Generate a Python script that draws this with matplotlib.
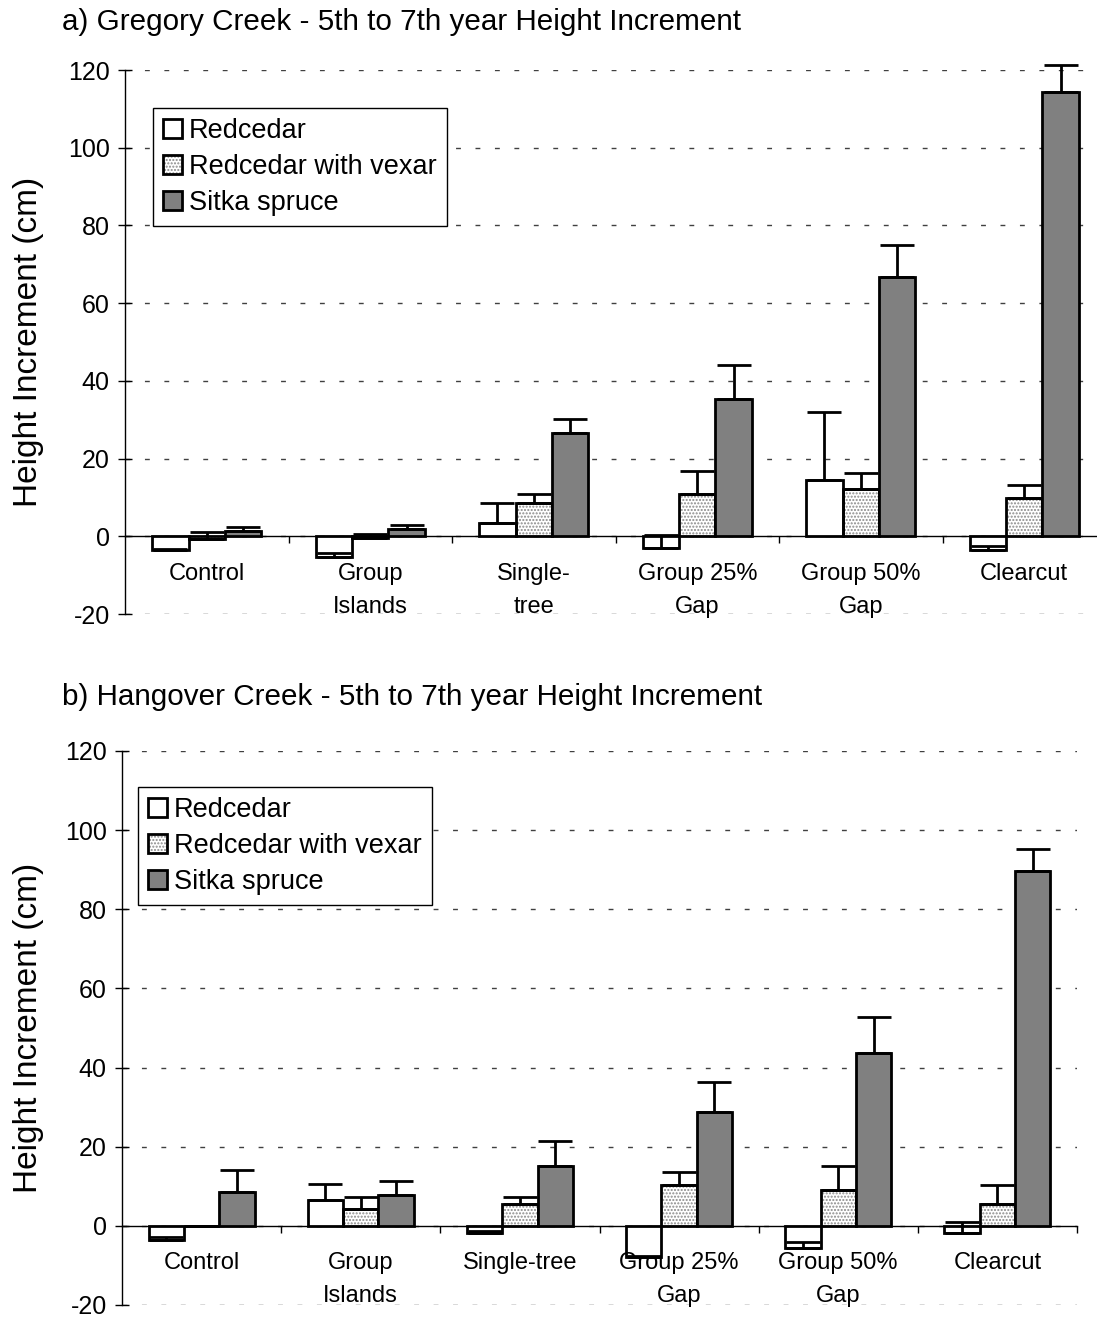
import numpy as np
from matplotlib import pyplot as plt
from matplotlib.legend_handler import HandlerTuple

plt.rcParams['font.family'] = ['Liberation Sans', 'DejaVu Sans']
plt.rcParams['axes.unicode_minus'] = False

sites = ["a) Gregory Creek - 5th to 7th year Height Increment",
         "b) Hangover Creek - 5th to 7th year Height Increment"]
series = ["Redcedar", "Redcedar with vexar", "Sitka spruce"]

cats_a = ["Control", "Group\nIslands", "Single-\ntree", "Group 25%\nGap", "Group 50%\nGap", "Clearcut"]
cats_b = ["Control", "Group\nIslands", "Single-tree", "Group 25%\nGap", "Group 50%\nGap", "Clearcut"]

# Gregory Creek
red_a = [-3.6, -5.3, 3.4, -3.0, 14.4, -3.6]
red_err_a = [0.4, 1.0, 5.2, 3.4, 17.5, 1.1]
vex_a = [-0.6, -0.5, 8.6, 10.9, 12.1, 9.9]
vex_err_a = [1.7, 1.0, 2.3, 5.9, 4.1, 3.2]
sit_a = [1.3, 1.8, 26.7, 35.3, 66.6, 114.3]
sit_err_a = [1.1, 1.1, 3.4, 8.7, 8.3, 7.0]

# Hangover Creek
red_b = [-3.5, 6.6, -1.9, -7.8, -5.6, -1.8]
red_err_b = [0.6, 4.1, 0.6, 0.2, 1.5, 2.9]
vex_b = [0.0, 4.3, 5.5, 10.2, 9.0, 5.5]
vex_err_b = [0.0, 2.9, 1.7, 3.3, 6.2, 4.7]
sit_b = [8.5, 7.8, 15.1, 28.7, 43.6, 89.7]
sit_err_b = [5.5, 3.5, 6.3, 7.6, 9.1, 5.6]

W, H = 1097, 1317
fig = plt.figure(figsize=(W / 100, H / 100), dpi=100)

# axes boxes in pixels: left, top, right, bottom
boxes = [(125, 70, 1106, 614), (122, 751, 1077, 1305)]
legpos = [(0.0285, 0.930), (0.0168, 0.935)]
w = 1 / 4.5


def panel(box, cats, vals, errs, title, lp, ty):
    l, t, r, b = box
    ax = fig.add_axes([l / W, 1 - b / H, (r - l) / W, (b - t) / H])
    x = np.arange(len(cats))
    handles = []
    for k in range(3):
        xs = x + (k - 1) * w
        v = np.array(vals[k])
        e = np.array(errs[k])
        if k == 1:
            hb = ax.bar(xs, v, w, facecolor='white', edgecolor='#8a8a8a', hatch='.....',
                        linewidth=0, zorder=2)
            ob = ax.bar(xs, v, w, fill=False, edgecolor='black', linewidth=2, zorder=3)
            handles.append((hb, ob))
        else:
            fc = 'white' if k == 0 else '#808080'
            bb = ax.bar(xs, v, w, color=fc, edgecolor='black', linewidth=2, zorder=3)
            handles.append(bb)
        eb = ax.errorbar(xs, v, yerr=[np.zeros_like(e), e], fmt='none', ecolor='black',
                         elinewidth=2, capsize=12, capthick=2, zorder=4)
        for art in eb.lines[1] + eb.lines[2]:
            art.set_clip_on(False)

    ax.set_xlim(-0.5, len(cats) - 0.5)
    ax.set_ylim(-20, 120)
    ax.set_yticks(np.arange(-20, 121, 20))
    ax.set_xticks(x)
    ax.set_xticklabels([])
    ax.set_xticks(np.arange(0.5, len(cats), 1), minor=True)
    ax.tick_params(axis='x', which='major', length=0)
    ax.tick_params(axis='x', which='minor', length=5, direction='out', width=1)
    ax.tick_params(axis='y', labelsize=18, direction='inout', length=10, width=1, pad=6)
    # category names under the zero line
    for i, c in enumerate(cats):
        ax.annotate(c, xy=(i, 0), xytext=(0, -19), textcoords='offset points',
                    ha='center', va='top', fontsize=17, linespacing=1.65,
                    annotation_clip=False)

    for s in ['top', 'right']:
        ax.spines[s].set_visible(False)
    ax.spines['bottom'].set_position(('data', 0))
    ax.spines['bottom'].set_linewidth(1)
    ax.spines['left'].set_linewidth(1)
    ax.yaxis.grid(True, color='#404040', linewidth=1, linestyle=(0, (3.5, 10.5)))
    ax.set_axisbelow(True)

    ax.set_ylabel("Height Increment (cm)", fontsize=24)
    ax.yaxis.set_label_coords((44 - l) / (r - l), 0.5)

    leg = ax.legend(handles, series, loc='upper left', bbox_to_anchor=lp,
                    borderaxespad=0, fontsize=19.5, fancybox=False, framealpha=1,
                    edgecolor='black', handlelength=0.7, handleheight=0.7,
                    handletextpad=0.25, labelspacing=0.36, borderpad=0.38,
                    handler_map={tuple: HandlerTuple(ndivide=1)})
    leg.get_frame().set_linewidth(1)

    fig.text(62 / W, 1 - ty / H, title, fontsize=21.3, va='center', ha='left')


panel(boxes[0], cats_a, [red_a, vex_a, sit_a], [red_err_a, vex_err_a, sit_err_a],
      sites[0], legpos[0], 22)
panel(boxes[1], cats_b, [red_b, vex_b, sit_b], [red_err_b, vex_err_b, sit_err_b],
      sites[1], legpos[1], 697)

fig.savefig("out.png", dpi=100)
